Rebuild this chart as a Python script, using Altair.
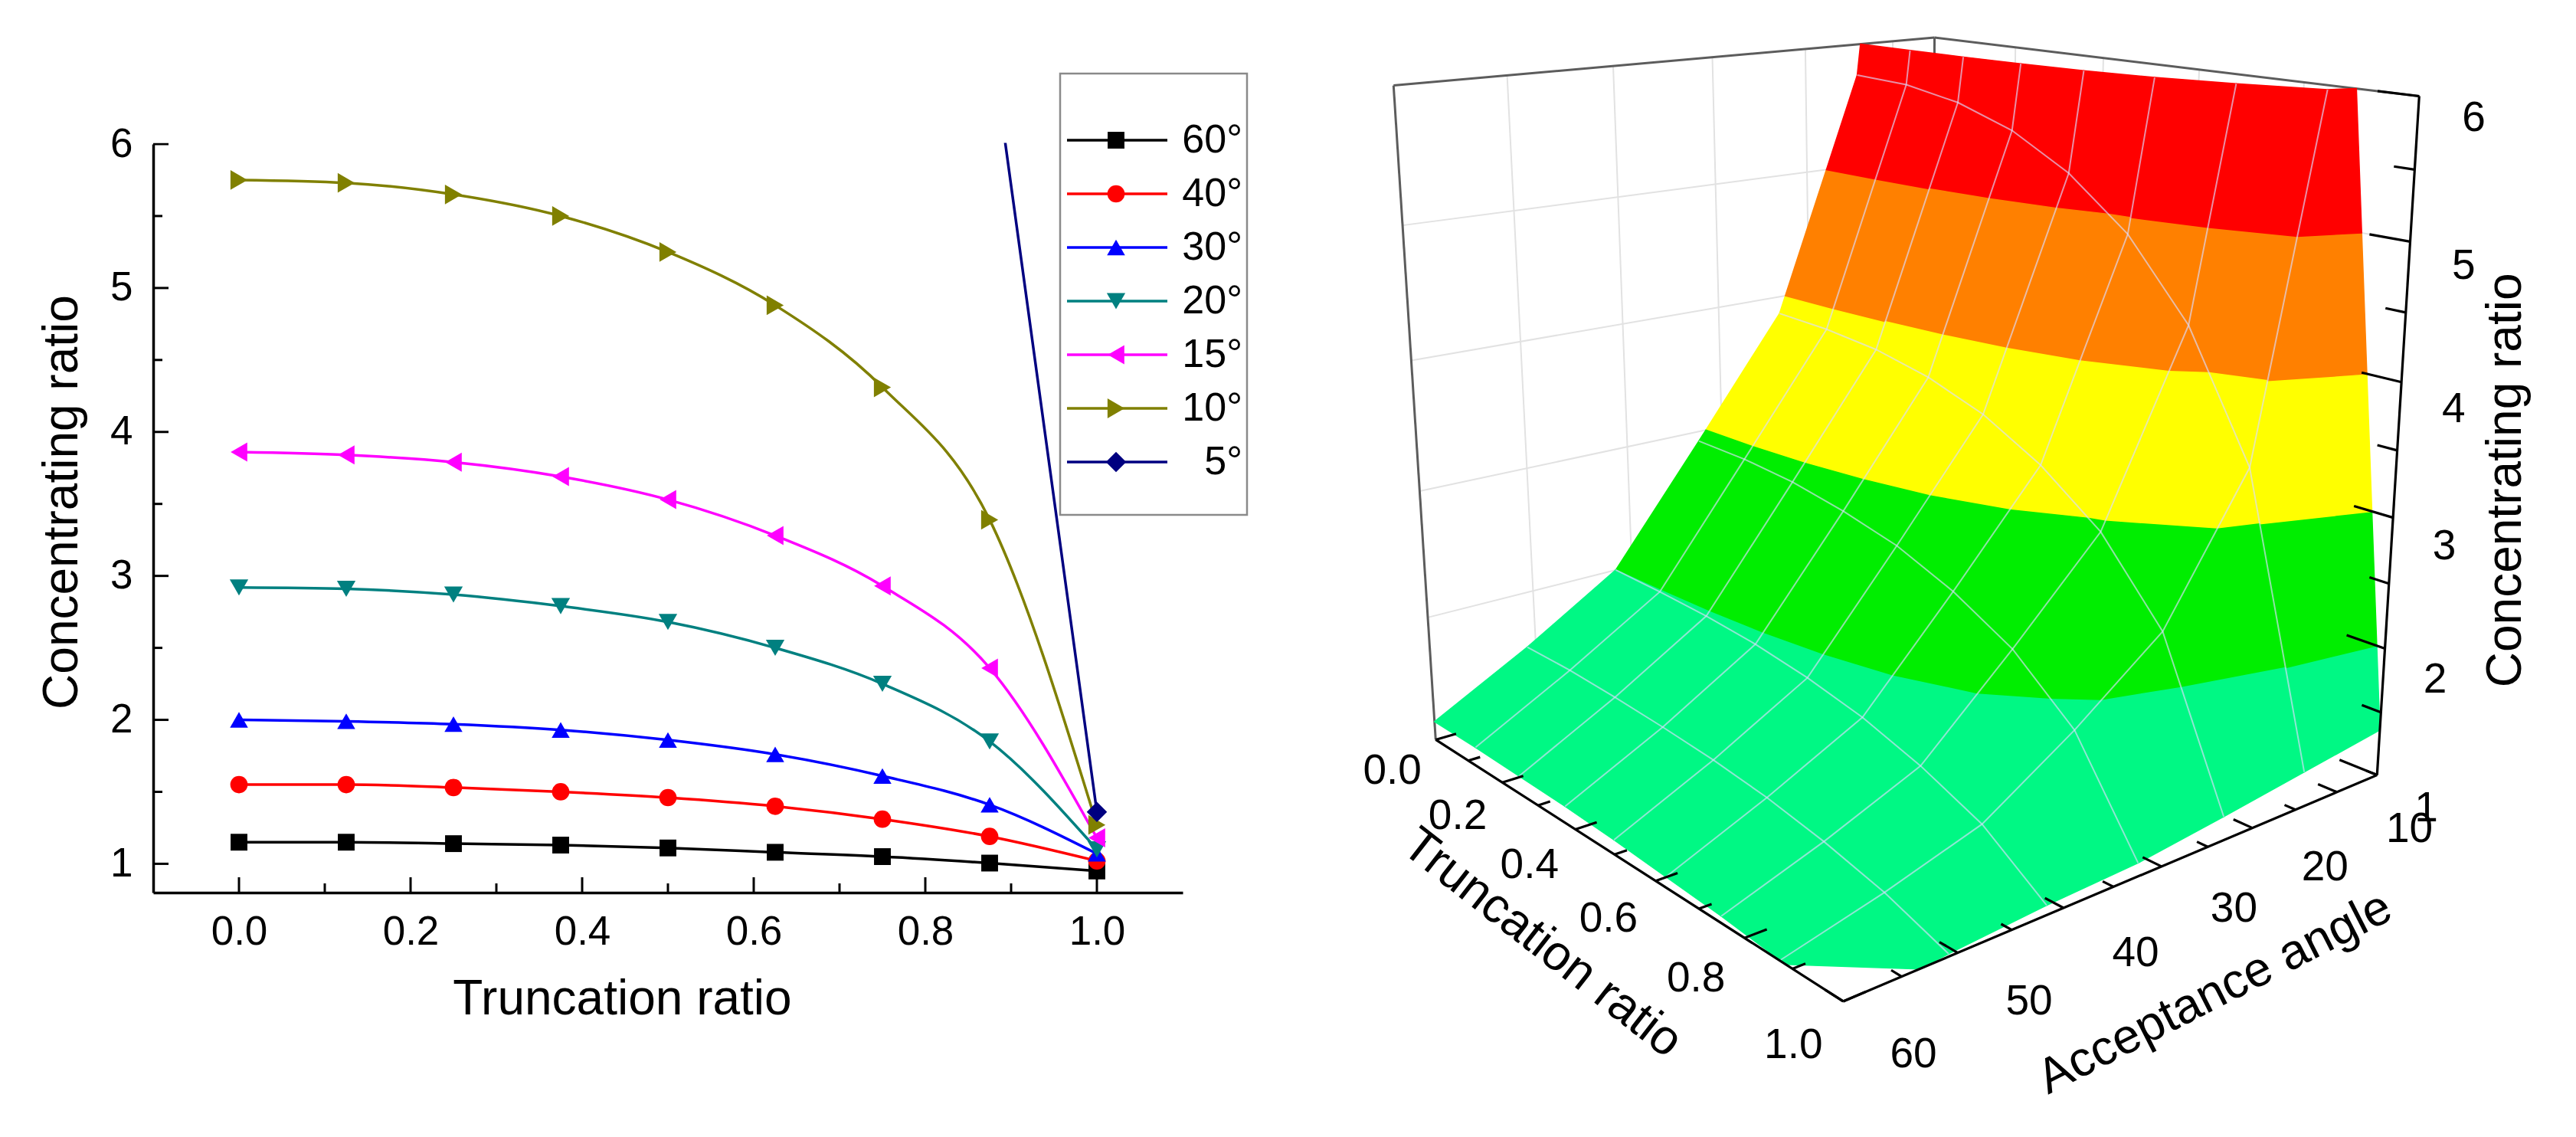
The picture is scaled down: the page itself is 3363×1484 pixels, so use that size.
import altair as alt
import numpy as np
import pandas as pd

# ------------------------------------------------------------------
# Data
# ------------------------------------------------------------------
trunc = [0.0, 0.125, 0.25, 0.375, 0.5, 0.625, 0.75, 0.875, 1.0]
series = ["60°", "40°", "30°", "20°", "15°", "10°", "5°"]
accept = [60, 40, 30, 20, 15, 10, 5]
cr_60 = [1.15, 1.15, 1.14, 1.13, 1.11, 1.08, 1.05, 1.005, 0.95]
cr_40 = [1.55, 1.55, 1.53, 1.50, 1.46, 1.40, 1.31, 1.19, 1.02]
cr_30 = [2.00, 1.99, 1.97, 1.93, 1.86, 1.76, 1.61, 1.41, 1.07]
cr_20 = [2.92, 2.91, 2.87, 2.79, 2.68, 2.50, 2.25, 1.85, 1.10]
cr_15 = [3.86, 3.84, 3.79, 3.69, 3.53, 3.28, 2.93, 2.36, 1.18]
cr_10 = [5.75, 5.73, 5.65, 5.50, 5.25, 4.88, 4.31, 3.39, 1.27]
cr_5 = [11.47, 11.40, 11.10, 10.60, 9.90, 8.90, 7.80, 6.80, 1.36]
curves = [cr_60, cr_40, cr_30, cr_20, cr_15, cr_10, cr_5]

x_major = [0.0, 0.2, 0.4, 0.6, 0.8, 1.0]
x_minor = [0.1, 0.3, 0.5, 0.7, 0.9]
y_major = [1, 2, 3, 4, 5, 6]
y_minor = [1.5, 2.5, 3.5, 4.5, 5.5]

z_levels = [1, 2, 3, 4, 5, 6]
band_names = ["1-2", "2-3", "3-4", "4-5", "5-6"]
t_tick_labels = [0.0, 0.2, 0.4, 0.6, 0.8, 1.0]
a_tick_labels = [60, 50, 40, 30, 20, 10]
z_tick_labels = [1, 2, 3, 4, 5, 6]

# ------------------------------------------------------------------
# Styles
# ------------------------------------------------------------------
FONT = "Liberation Sans"
line_colors = ["#000000", "#FF0000", "#0000FF", "#008080", "#FF00FF", "#808000", "#000080"]
marker_shapes = ["square", "circle", "triangle-up", "triangle-down",
                 "triangle-left", "triangle-right", "diamond"]
marker_sizes = [480, 700, 760, 760, 760, 760, 640]
band_colors = ["#00F884", "#00EE00", "#FFFF00", "#FF8000", "#FF0000"]

# ------------------------------------------------------------------
# Left panel: 2-D line chart
# ------------------------------------------------------------------
df = pd.DataFrame([{"series": s, "T": t, "CR": c}
                   for s, vals in zip(series, curves) for t, c in zip(trunc, vals)])

xs = alt.Scale(domain=[-0.1, 1.1], range=[192, 1536], nice=False, zero=False)
ys = alt.Scale(domain=[0.8, 6], range=[1157, 180], nice=False, zero=False)
col = alt.Scale(domain=series, range=line_colors)
shp = alt.Scale(domain=series, range=marker_shapes)
siz = alt.Scale(domain=series, range=marker_sizes)

x_axis = alt.Axis(values=x_major, format=".1f", ticks=False, tickSize=0, grid=False,
                  domainColor="black", domainWidth=3.5, labelFont=FONT, labelFontSize=53,
                  labelColor="black", labelPadding=25, labelFlush=False, labelOverlap=False,
                  title="Truncation ratio", titleFont=FONT, titleFontSize=64,
                  titleFontWeight="normal", titleColor="black", titleX=804, titleY=158,
                  titleAlign="center", titleBaseline="alphabetic", offset=-311)
y_axis = alt.Axis(values=y_major, format="d", ticks=False, tickSize=0, grid=False,
                  domainColor="black", domainWidth=3.5, labelFont=FONT, labelFontSize=53,
                  labelColor="black", labelPadding=27, labelFlush=False, labelOverlap=False,
                  title="Concentrating ratio", titleFont=FONT, titleFontSize=64,
                  titleFontWeight="normal", titleColor="black", titleAngle=270,
                  titleX=-100, titleY=647, titleAlign="center", titleBaseline="alphabetic",
                  offset=-192)

base = alt.Chart(df)
X = alt.X("T:Q", scale=xs, axis=x_axis)
Y = alt.Y("CR:Q", scale=ys, axis=y_axis)
C = alt.Color("series:N", scale=col, legend=None)

smooth_lines = base.transform_filter(alt.datum.series != "5°").mark_line(
    interpolate="monotone", strokeWidth=3.5).encode(x=X, y=Y, color=C)
steep_line = base.transform_filter(alt.datum.series == "5°").mark_line(
    interpolate="linear", strokeWidth=3.5, clip=True).encode(x=X, y=Y, color=C)
markers = base.mark_point(filled=True, opacity=1, clip=True).encode(
    x=X, y=Y, color=C,
    shape=alt.Shape("series:N", scale=shp, legend=None),
    size=alt.Size("series:N", scale=siz, legend=None))

ytick_major = alt.Chart(pd.DataFrame({"v": y_major})).mark_rule(color="black", strokeWidth=3).encode(
    y=alt.Y("v:Q", scale=ys, axis=y_axis), x=alt.value(192), x2=alt.value(212))
ytick_minor = alt.Chart(pd.DataFrame({"v": y_minor})).mark_rule(color="black", strokeWidth=3).encode(
    y=alt.Y("v:Q", scale=ys, axis=y_axis), x=alt.value(192), x2=alt.value(204))
xtick_major = alt.Chart(pd.DataFrame({"v": x_major})).mark_rule(color="black", strokeWidth=3).encode(
    x=alt.X("v:Q", scale=xs, axis=x_axis), y=alt.value(1157), y2=alt.value(1137))
xtick_minor = alt.Chart(pd.DataFrame({"v": x_minor})).mark_rule(color="black", strokeWidth=3).encode(
    x=alt.X("v:Q", scale=xs, axis=x_axis), y=alt.value(1157), y2=alt.value(1145))
# white band above the frame (the steep 5° curve leaves the frame at the top)
mask = alt.Chart(pd.DataFrame({"k": [0]})).mark_rect(fill="white").encode(
    x=alt.value(188), x2=alt.value(1545), y=alt.value(0), y2=alt.value(178.5))

left_plot = alt.layer(smooth_lines, steep_line, markers,
                      ytick_major, ytick_minor, xtick_major, xtick_minor, mask)

# legend box
leg_df = pd.DataFrame({"series": series})
ly = alt.Scale(domain=series, range=[140, 630], padding=0)
LY = alt.Y("series:N", scale=ly, axis=None)
leg_box = alt.Chart(pd.DataFrame({"k": [0]})).mark_rect(
    fill="white", stroke="#8a8a8a", strokeWidth=2.5).encode(
    x=alt.value(1376), x2=alt.value(1620), y=alt.value(88), y2=alt.value(664))
leg_lines = alt.Chart(leg_df).mark_rule(strokeWidth=3.5).encode(
    y=LY, x=alt.value(1385), x2=alt.value(1516), color=C)
leg_marks = alt.Chart(leg_df).mark_point(filled=True, opacity=1).encode(
    y=LY, x=alt.value(1449), color=C,
    shape=alt.Shape("series:N", scale=shp, legend=None),
    size=alt.Size("series:N", scale=siz, legend=None))
leg_text = alt.Chart(leg_df).mark_text(align="right", baseline="middle", font=FONT,
                                       fontSize=52, color="black").encode(
    y=LY, x=alt.value(1614), text="series:N")
legend = alt.layer(leg_box, leg_lines, leg_marks, leg_text)

# ------------------------------------------------------------------
# Right panel: 3-D surface (perspective view of the same data)
# ------------------------------------------------------------------
# view calibration: box corners (u = truncation, v = angle axis 60->5, w = ratio 1->6)
view_box = [(0, 0, 1), (0, 1, 1), (1, 1, 1), (0, 0, 0), (1, 1, 0), (1, 0, 0)]
view_screen = [(1819, 112), (2526, 49), (3158, 125), (1874, 965), (3103, 1012), (2407, 1307)]


def fit_camera(obj, img):
    img = np.asarray(img, float)
    m = img.mean(0)
    s = np.sqrt(2) / np.mean(np.linalg.norm(img - m, axis=1))
    Tn = np.array([[s, 0, -s * m[0]], [0, s, -s * m[1]], [0, 0, 1]])
    rows = []
    for (Xo, Yo, Zo), (x, y) in zip(obj, img):
        xn, yn = s * (x - m[0]), s * (y - m[1])
        rows.append([Xo, Yo, Zo, 1, 0, 0, 0, 0, -xn * Xo, -xn * Yo, -xn * Zo, -xn])
        rows.append([0, 0, 0, 0, Xo, Yo, Zo, 1, -yn * Xo, -yn * Yo, -yn * Zo, -yn])
    _, _, vt = np.linalg.svd(np.array(rows, float))
    P = np.linalg.inv(Tn) @ vt[-1].reshape(3, 4)
    if (P @ np.array([0.5, 0.5, 0.5, 1.0]))[2] < 0:
        P = -P
    return P


P = fit_camera(view_box, view_screen)


def project(u, v, w):
    h = P @ np.array([u, v, w, 1.0])
    return h[0] / h[2], h[1] / h[2], h[2]


def v_of(a):
    return (60.0 - a) / 55.0


def w_of(z):
    return (z - 1.0) / 5.0


# the surface matrix columns (one per acceptance angle) are laid out evenly
v_col = [i / (len(accept) - 1) for i in range(len(accept))]


def clip_poly(poly, lo, hi):
    def clip(pl, keep, level):
        out = []
        for k in range(len(pl)):
            cur, prev = pl[k], pl[k - 1]
            cin, pin = keep(cur), keep(prev)
            if cin != pin:
                t = (level - prev[2]) / (cur[2] - prev[2])
                out.append((prev[0] + t * (cur[0] - prev[0]),
                            prev[1] + t * (cur[1] - prev[1]), level))
            if cin:
                out.append(cur)
        return out
    p = clip(poly, lambda q: q[2] >= lo, lo)
    if p:
        p = clip(p, lambda q: q[2] <= hi, hi)
    return p


def clip_polyline(nodes, lo, hi):
    pieces, cur = [], []
    for a, b in zip(nodes[:-1], nodes[1:]):
        za, zb = a[2], b[2]
        if abs(zb - za) < 1e-12:
            t0, t1 = (0.0, 1.0) if lo <= za <= hi else (1.0, 0.0)
        else:
            ta, tb = (lo - za) / (zb - za), (hi - za) / (zb - za)
            t0, t1 = max(0.0, min(ta, tb)), min(1.0, max(ta, tb))
        if t0 > t1:
            if cur:
                pieces.append(cur)
                cur = []
            continue
        pa = tuple(a[k] + t0 * (b[k] - a[k]) for k in range(3))
        pb = tuple(a[k] + t1 * (b[k] - a[k]) for k in range(3))
        if t0 > 1e-9 or not cur:
            if cur:
                pieces.append(cur)
            cur = [pa]
        cur.append(pb)
        if t1 < 1 - 1e-9:
            pieces.append(cur)
            cur = []
    if cur:
        pieces.append(cur)
    return [p for p in pieces if len(p) >= 2]


zg = np.array(curves, float)

# surface cells split into colour bands
polys = []
for i in range(len(accept) - 1):
    for j in range(len(trunc) - 1):
        quad = [(trunc[j], v_col[i], zg[i][j]),
                (trunc[j + 1], v_col[i], zg[i][j + 1]),
                (trunc[j + 1], v_col[i + 1], zg[i + 1][j + 1]),
                (trunc[j], v_col[i + 1], zg[i + 1][j])]
        for b in range(len(band_names)):
            p = clip_poly(quad, z_levels[b], z_levels[b + 1])
            if len(p) >= 3:
                pts = [project(q[0], q[1], w_of(q[2])) for q in p]
                depth = np.mean([q[2] for q in pts])
                polys.append((depth, band_names[b], pts))
polys.sort(key=lambda r: -r[0])
surf_rows = []
for k, (_, band, pts) in enumerate(polys):
    for o, (x, y, _) in enumerate(pts):
        surf_rows.append({"lid": f"p{k:04d}", "ord": o, "px": x, "py": y, "band": band})
surf_df = pd.DataFrame(surf_rows)

# mesh lines on the surface
mesh_rows = []
lid = 0
for j in range(1, len(trunc) - 1):
    nodes = [(trunc[j], v_col[i], zg[i][j]) for i in range(len(accept))]
    for piece in clip_polyline(nodes, 1.0, 6.0):
        for o, q in enumerate(piece):
            x, y, _ = project(q[0], q[1], w_of(q[2]))
            mesh_rows.append({"lid": f"m{lid:03d}", "ord": o, "px": x, "py": y})
        lid += 1
for i in range(1, len(accept) - 1):
    nodes = [(trunc[j], v_col[i], zg[i][j]) for j in range(len(trunc))]
    for piece in clip_polyline(nodes, 1.0, 6.0):
        for o, q in enumerate(piece):
            x, y, _ = project(q[0], q[1], w_of(q[2]))
            mesh_rows.append({"lid": f"m{lid:03d}", "ord": o, "px": x, "py": y})
        lid += 1
mesh_df = pd.DataFrame(mesh_rows)


def seg_frame(segments, prefix):
    rows = []
    for k, (a, b) in enumerate(segments):
        for o, p in enumerate((a, b)):
            x, y, _ = project(*p)
            rows.append({"lid": f"{prefix}{k:03d}", "ord": o, "px": x, "py": y})
    return pd.DataFrame(rows)


wall_segs = []
for a in [50, 40, 30, 20, 10]:
    wall_segs.append(((0, v_of(a), 0), (0, v_of(a), 1)))
for z in [2, 3, 4, 5]:
    wall_segs.append(((0, 0, w_of(z)), (0, 1, w_of(z))))
    wall_segs.append(((0, 1, w_of(z)), (1, 1, w_of(z))))
for t in [0.2, 0.4, 0.6, 0.8]:
    wall_segs.append(((t, 1, 0), (t, 1, 1)))
edge_segs = [((0, 0, 1), (0, 1, 1)), ((0, 1, 1), (1, 1, 1)),
             ((0, 0, 0), (0, 0, 1)), ((0, 1, 0), (0, 1, 1))]
axis_segs = [((0, 0, 0), (1, 0, 0)), ((1, 0, 0), (1, 1, 0)), ((1, 1, 0), (1, 1, 1))]
tick_segs = []
for k in range(11):
    t = k / 10
    L = 0.035 if k % 2 == 0 else 0.02
    tick_segs.append(((t, 0, 0), (t, L, 0)))
for a in range(5, 65, 5):
    L = 0.035 if a % 10 == 0 else 0.02
    tick_segs.append(((1, v_of(a), 0), (1 - L, v_of(a), 0)))
for k in range(11):
    z = 1 + k * 0.5
    L = 0.07 if k % 2 == 0 else 0.035
    tick_segs.append(((1, 1, w_of(z)), (1 - L, 1, w_of(z))))

wall_df = seg_frame(wall_segs, "g")
edge_df = seg_frame(edge_segs, "e")
axis_df = seg_frame(axis_segs + tick_segs, "a")


def label_frame(items, shift=(0.0, 0.0)):
    rows = []
    for text, (u, v, w) in items:
        x, y, _ = project(u, v, w)
        rows.append({"label": text, "px": x + shift[0], "py": y + shift[1]})
    return pd.DataFrame(rows)


t_lab_df = label_frame([(f"{t:.1f}", (t, -0.075, -0.03)) for t in t_tick_labels])
a_lab_df = label_frame([(str(a), (1.13, v_of(a), -0.01)) for a in a_tick_labels])
z_lab_df = label_frame([(str(z), (1.09, 1.0, w_of(z) - 0.02)) for z in z_tick_labels])
ttl_t_df = label_frame([("Truncation ratio", (0.5, -0.19, -0.06))], shift=(63, 7))
ttl_a_df = label_frame([("Acceptance angle", (1.25, 0.5, -0.07))], shift=(-84, -6))
ttl_z_df = label_frame([("Concentrating ratio", (1.24, 1.0, 0.47))], shift=(-46, -40))

pxs = alt.Scale(domain=[8, 3355], range=[0, 3347], nice=False, zero=False)
pys = alt.Scale(domain=[8, 1476], range=[0, 1468], nice=False, zero=False)
PX = alt.X("px:Q", scale=pxs, axis=None)
PY = alt.Y("py:Q", scale=pys, axis=None)


def path_layer(d, **style):
    return alt.Chart(d).mark_line(**style).encode(x=PX, y=PY, detail="lid:N", order="ord:Q")


def text_layer(d, **style):
    return alt.Chart(d).mark_text(font=FONT, color="black", align="center",
                                  baseline="middle", **style).encode(x=PX, y=PY, text="label:N")


band_scale = alt.Scale(domain=band_names, range=band_colors)
surface = alt.Chart(surf_df).mark_line(interpolate="linear-closed", strokeWidth=1.5,
                                       strokeJoin="round").encode(
    x=PX, y=PY, detail="lid:N", order="ord:Q",
    fill=alt.Fill("band:N", scale=band_scale, legend=None),
    stroke=alt.Stroke("band:N", scale=band_scale, legend=None))

right = alt.layer(
    path_layer(wall_df, color="#e2e2e2", strokeWidth=2),
    path_layer(edge_df, color="#5c5c5c", strokeWidth=3),
    surface,
    path_layer(mesh_df, color="#dcdcff", strokeWidth=2, opacity=0.65),
    path_layer(axis_df, color="black", strokeWidth=3.2),
    text_layer(t_lab_df, fontSize=55),
    text_layer(a_lab_df, fontSize=55),
    text_layer(z_lab_df, fontSize=55),
    text_layer(ttl_t_df, fontSize=64, angle=38),
    text_layer(ttl_a_df, fontSize=64, angle=333),
    text_layer(ttl_z_df, fontSize=64, angle=270),
)

chart = alt.layer(left_plot, legend, right).resolve_scale(
    x="independent", y="independent", color="independent",
    shape="independent", size="independent"
).properties(
    width=3347, height=1468, padding=0,
    autosize=alt.AutoSizeParams(type="none"), background="white"
).configure_view(strokeWidth=0)

chart.save("out.html", embed_options={"renderer": "svg", "actions": False})
